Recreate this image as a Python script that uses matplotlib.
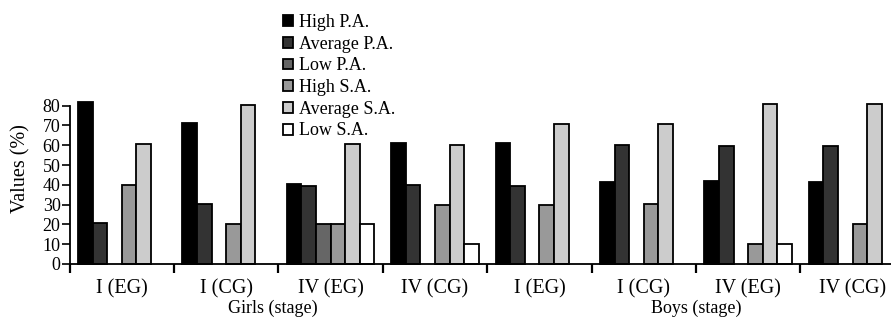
import numpy as np
import matplotlib
matplotlib.use("Agg")
import matplotlib.pyplot as plt
from matplotlib.transforms import blended_transform_factory

plt.rcParams['font.family'] = ['Liberation Serif', 'DejaVu Serif']
plt.rcParams['font.size'] = 12

# Data
groups = ["I (EG)", "I (CG)", "IV (EG)", "IV (CG)",
          "I (EG)", "I (CG)", "IV (EG)", "IV (CG)"]
series = ["High P.A.", "Average P.A.", "Low P.A.",
          "High S.A.", "Average S.A.", "Low S.A."]
high_pa = [82, 71.5, 40.5, 61, 61, 41.5, 42, 41.5]
avg_pa = [20.5, 30.5, 39.5, 40, 39.5, 60, 59.5, 59.5]
low_pa = [0, 0, 20, 0, 0, 0, 0, 0]
high_sa = [40, 20, 20, 30, 30, 30.5, 10, 20]
avg_sa = [60.5, 80.5, 60.5, 60, 70.5, 70.5, 81, 81]
low_sa = [0, 0, 20, 10, 0, 0, 10, 0]
colors = ["#000000", "#333333", "#666666", "#999999", "#cccccc", "#ffffff"]

values = [high_pa, avg_pa, low_pa, high_sa, avg_sa, low_sa]

fig = plt.figure(figsize=(8.91, 3.2), dpi=100)
ax = fig.add_axes([0.0781, 0.175, 0.9374, 0.4947])

x = np.arange(len(groups))
w = 0.14
for k, (vals, name, col) in enumerate(zip(values, series, colors)):
    vals = np.array(vals, dtype=float)
    pos = x + (k - 2.5) * w
    mask = vals > 0
    ax.bar(pos[mask], vals[mask], width=w, color=col, edgecolor='black',
           linewidth=1.3, clip_on=False, label=name)

ax.set_xlim(-0.5, 7.5)
ax.set_ylim(0, 80)
ax.set_yticks(np.arange(0, 81, 10))
ax.set_xticks(np.arange(-0.5, 7.6, 1.0))
ax.set_xticklabels([])
ax.set_xticks(x, minor=True)
ax.set_xticklabels(groups, minor=True)
ax.tick_params(axis='x', which='major', direction='out', length=6.5, width=1.6)
ax.tick_params(axis='x', which='minor', length=0, pad=11, labelsize=14.5)
ax.tick_params(axis='y', direction='out', length=5.5, width=1.2, pad=1, labelsize=13)

for s in ['top', 'right']:
    ax.spines[s].set_visible(False)
ax.spines['left'].set_linewidth(1.3)
ax.spines['bottom'].set_linewidth(1.3)
ax.spines['bottom'].set_position(('data', 0))

fig.text(20.7 / 891, 1 - 169 / 320, "Values (%)", rotation=90,
         ha='center', va='center', fontsize=14.5)
trans = blended_transform_factory(ax.transData, fig.transFigure)
ax.text(1.45, 1 - 308 / 320, "Girls (stage)", transform=trans,
        ha='center', va='center', fontsize=13)
ax.text(5.5, 1 - 308 / 320, "Boys (stage)", transform=trans,
        ha='center', va='center', fontsize=13)

fig.legend(loc='upper left', bbox_to_anchor=(283 / 891, 1 - 14 / 320), frameon=False,
           fontsize=13, handlelength=0.55, handleheight=0.55, handletextpad=0.35,
           labelspacing=0.26, borderpad=0, borderaxespad=0)

fig.savefig("out.png", dpi=100)
